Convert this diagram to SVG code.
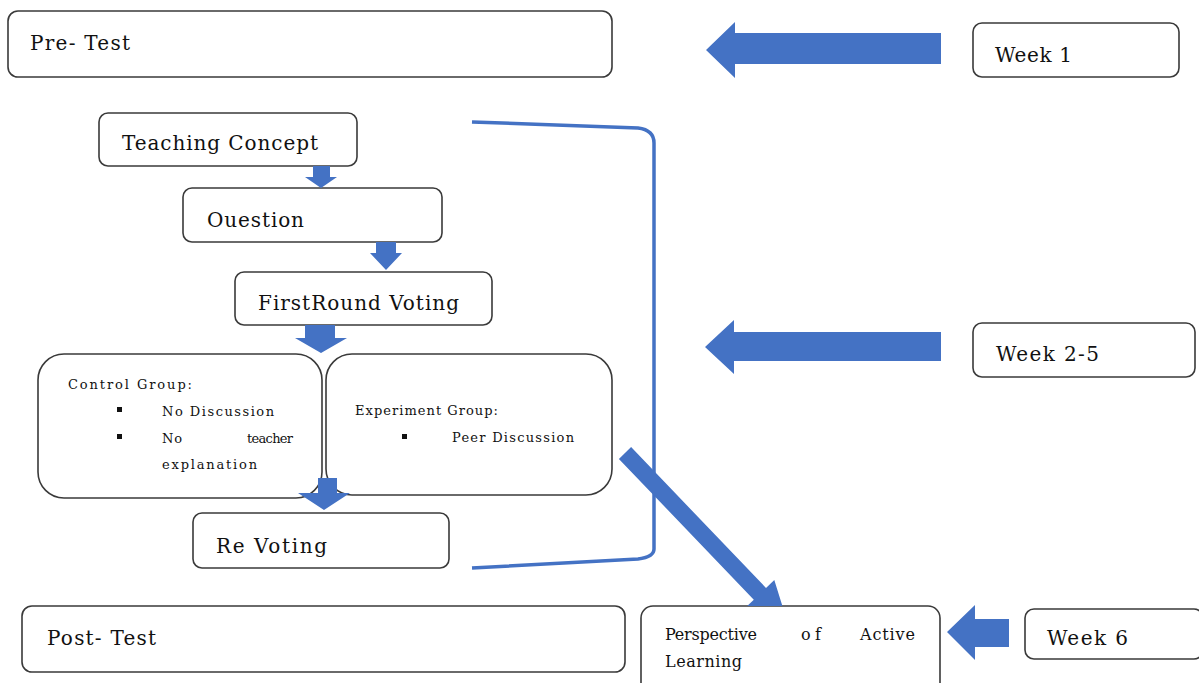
<svg xmlns="http://www.w3.org/2000/svg" width="1199" height="683" viewBox="0 0 1199 683">
<style>
.box{fill:#fff;stroke:#3a3a3a;stroke-width:1.6}
text{font-family:"DejaVu Serif","Liberation Serif","Times New Roman",serif;fill:#111}
.t{font-size:20px}
.s{font-size:13px}
.p{font-size:16px}
.arr{fill:#4472C4}
.br{fill:none;stroke:#4472C4;stroke-width:3.5}
.bul{fill:#111}
</style>
<defs>
<clipPath id="above"><rect x="0" y="0" width="1199" height="606"/></clipPath>
</defs>
<rect width="1199" height="683" fill="#fff"/>
<g id="pre-test"><rect class="box" x="8" y="11" width="604" height="66" rx="10"/><text class="t" x="30" y="50" textLength="100">Pre- Test</text></g>
<g id="week1"><rect class="box" x="973" y="23" width="206" height="54" rx="9"/><text class="t" x="995" y="62" textLength="77">Week 1</text></g>
<g id="teaching-concept"><rect class="box" x="99" y="113" width="258" height="53" rx="9"/><text class="t" x="122" y="150" textLength="196">Teaching Concept</text></g>
<g id="question"><rect class="box" x="183" y="188" width="259" height="54" rx="9"/><text class="t" x="207" y="227" textLength="97">Ouestion</text></g>
<g id="first-round"><rect class="box" x="235" y="272" width="257" height="53" rx="9"/><text class="t" x="258" y="310" textLength="201">FirstRound Voting</text></g>
<g id="control-group"><rect class="box" x="38" y="354" width="284" height="144" rx="26"/>
<text class="s" x="68" y="389" textLength="124">Control Group:</text>
<rect class="bul" x="117" y="407" width="5" height="5"/><text class="s" x="162" y="416" textLength="112">No Discussion</text>
<rect class="bul" x="117" y="434" width="5" height="5"/><text class="s" x="162" y="443" textLength="20">No</text><text class="s" x="247" y="443" textLength="46">teacher</text>
<text class="s" x="162" y="469" textLength="95">explanation</text></g>
<g id="experiment-group"><rect class="box" x="326" y="354" width="286" height="141" rx="26"/>
<text class="s" x="355" y="415" textLength="143">Experiment Group:</text>
<rect class="bul" x="402" y="434" width="5" height="5"/><text class="s" x="452" y="442" textLength="122">Peer Discussion</text></g>
<g id="re-voting"><rect class="box" x="193" y="513" width="256" height="55" rx="9"/><text class="t" x="216" y="553" textLength="111">Re Voting</text></g>
<g id="week2-5"><rect class="box" x="973" y="323" width="222" height="54" rx="9"/><text class="t" x="996" y="361" textLength="103">Week 2-5</text></g>
<g id="post-test"><rect class="box" x="22" y="606" width="603" height="66" rx="10"/><text class="t" x="47" y="645" textLength="109">Post- Test</text></g>
<g id="perspective"><rect class="box" x="641" y="606" width="299" height="100" rx="12"/>
<text class="p" x="665" y="640" textLength="92">Perspective</text><text class="p" x="801" y="640" textLength="20">of</text><text class="p" x="860" y="640" textLength="55">Active</text>
<text class="p" x="665" y="667" textLength="77">Learning</text></g>
<g id="week6"><rect class="box" x="1025" y="609" width="178" height="50" rx="9"/><text class="t" x="1047" y="645" textLength="81">Week 6</text></g>
<g id="connectors">
<polygon class="arr" points="941,33 735,33 735,22 706,50 735,78 735,64 941,64"/>
<polygon class="arr" points="941,332 734,332 734,320 705,347 734,374 734,361 941,361"/>
<polygon class="arr" points="1009,619 975,619 975,605 947,632 975,660 975,647 1009,647"/>
<polygon class="arr" points="313,166 330,166 330,177 337,177 321,188 305,177 313,177"/>
<polygon class="arr" points="376,242 396,242 396,253 402,253 386,270 370,253 376,253"/>
<polygon class="arr" points="305,325 335,325 335,338 347,338 321,353 295,338 305,338"/>
<polygon class="arr" points="318,478 337,478 337,493 350,493 324,510 298,493 318,493"/>
<path class="br" d="M472 122 L638 128 Q654 130 654 143 L654 549 Q654 557 638 559 L472 568"/>
<polygon class="arr" clip-path="url(#above)" points="631.1,447.1 766.0,587.9 774.3,580 787.6,622.7 745.5,607.6 753.8,599.7 618.9,458.9"/>
</g>
</svg>
